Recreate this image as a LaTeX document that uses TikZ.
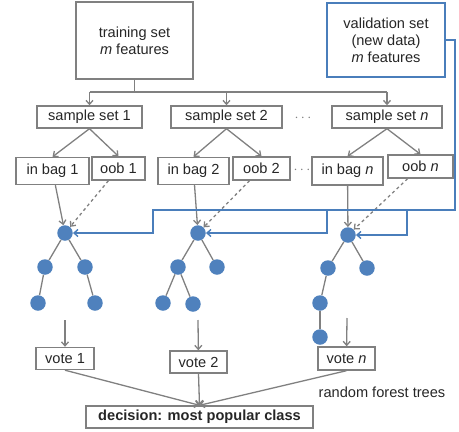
\documentclass[tikz,border=0pt]{standalone}
\usepackage{fontspec}
\setmainfont{Liberation Sans}
\usepackage{xcolor}
\usetikzlibrary{positioning, arrows.meta}

\definecolor{linegray}{HTML}{808080}
\definecolor{valblue}{HTML}{4A7EBB}
\definecolor{nodeblue}{HTML}{4F81BD}
\definecolor{txtgray}{HTML}{262626}

\begin{document}
\begin{tikzpicture}[x=1pt, y=-1pt, font=\fontsize{14.6}{17}\selectfont, text=txtgray,
        box/.style={draw=linegray, line width=1.4pt, inner sep=1pt, align=center},
        leaf/.style={circle, fill=nodeblue, minimum size=15.5pt, inner sep=0pt},
        line/.style={color=linegray, line width=1.3pt},
        arr/.style={line, -{Straight Barb[length=4pt, width=7pt]}},
        oobarr/.style={arr, dashed},
        valarr/.style={draw=valblue, line width=1.4pt, -{Straight Barb[length=4pt, width=7pt]}}]
        \useasboundingbox (0,0) rectangle (459,432);

        % input sets
        \node[box, minimum width=117, minimum height=77] (train) at (134.5,40.5) {training set\\\textit{m} features};
        \node[box, draw=valblue, minimum width=118, minimum height=74] (val) at (386,40) {validation set\\(new data)\\\textit{m} features};

        % bootstrap samples
        \node[box, minimum width=105, minimum height=22] (s1) at (89.5,117) {sample set 1};
        \node[box, minimum width=111, minimum height=22] (s2) at (226.5,117) {sample set 2};
        \node[box, minimum width=110, minimum height=22] (sn) at (387,117) {sample set \textit{n}};
        \node[text=linegray] (dotsA) at (303,118) {$\cdots$};

        \node[box, minimum width=73, minimum height=27] (bag1) at (52.5,171) {in bag 1};
        \node[box, minimum width=53, minimum height=23] (oob1) at (118.5,168.5) {oob 1};
        \node[box, minimum width=71, minimum height=27] (bag2) at (193.5,171) {in bag 2};
        \node[box, minimum width=57, minimum height=23] (oob2) at (261.5,168.5) {oob 2};
        \node[box, minimum width=71, minimum height=28] (bagn) at (347.5,171) {in bag \textit{n}};
        \node[box, minimum width=65, minimum height=23] (oobn) at (420.5,166.5) {oob \textit{n}};
        \node[text=linegray] (dotsB) at (302,170) {$\cdots$};

        % trees
        \node[leaf] (r1) at (65,233) {};
        \node[leaf] (l1) at (45,267) {};
        \node[leaf] (m1) at (85,267) {};
        \node[leaf] (l1a) at (38,303) {};
        \node[leaf] (m1a) at (95,303) {};

        \node[leaf] (r2) at (198,233) {};
        \node[leaf] (l2) at (178,267) {};
        \node[leaf] (m2) at (217,267) {};
        \node[leaf] (l2a) at (163,303) {};
        \node[leaf] (l2b) at (193,304) {};

        \node[leaf] (rn) at (348,235) {};
        \node[leaf] (ln) at (328,268) {};
        \node[leaf] (mn) at (367,268) {};
        \node[leaf] (lna) at (320,303) {};
        \node[leaf] (lnb) at (320,337) {};

        % votes
        \node[box, minimum width=58, minimum height=22] (vote1) at (65,358.5) {vote 1};
        \node[box, minimum width=57, minimum height=22] (vote2) at (198.5,362) {vote 2};
        \node[box, minimum width=57, minimum height=23] (voten) at (346.5,358.5) {vote \textit{n}};
        \node (rft) at (382,392) {random forest trees};
        \node[box, minimum width=227, minimum height=22] (dec) at (199.5,417) {\textbf{decision: most popular class}};

        \coordinate (split) at (134.5,92);
        \coordinate (t1) at (153,210);
        \coordinate (t2) at (327,210);
        \coordinate (tn) at (407,210);
        \coordinate (vcorner) at (455,210);
        \coordinate (v1) at (65,320);
        \coordinate (v2) at (198,320);
        \coordinate (vn) at (347,318);

        % training set split
        \draw[line] (train) -- (split);
        \draw[line] (s1.north |- split) -- (sn.north |- split);
        \foreach \s in {s1, s2, sn}
            \draw[arr] (\s.north |- split) -- (\s);

        \path[arr]
        (s1.south) edge (bag1.north)
        (s1.south) edge (oob1.north)
        (s2.south) edge (bag2.north)
        (s2.south) edge (oob2.north)
        (sn.south) edge (bagn.north)
        (sn.south) edge (oobn.north)
        (bag1) edge (r1)
        (bag2) edge (r2)
        (bagn) edge (rn);

        \path[oobarr]
        (oob1) edge (r1)
        (oob2) edge (r2)
        (oobn) edge (rn);

        % validation data path
        \draw[valarr] (val.east) -| (vcorner) -- (t1) |- (r1);
        \draw[valarr] (t2) |- (r2);
        \draw[valarr] (tn) |- (rn);

        % tree branches
        \path[line]
        (r1) edge (l1) edge (m1)
        (l1) edge (l1a)
        (m1) edge (m1a)
        (r2) edge (l2) edge (m2)
        (l2) edge (l2a) edge (l2b)
        (rn) edge (ln) edge (mn)
        (ln) edge (lna)
        (lna) edge (lnb);

        % voting
        \draw[arr] (v1) -- (vote1);
        \draw[arr] (v2) -- (vote2);
        \draw[arr] (vn) -- (voten);
        \path[arr]
        (vote1.south) edge (dec.north)
        (vote2.south) edge (dec.north)
        (voten.south) edge (dec.north);
\end{tikzpicture}
\end{document}
